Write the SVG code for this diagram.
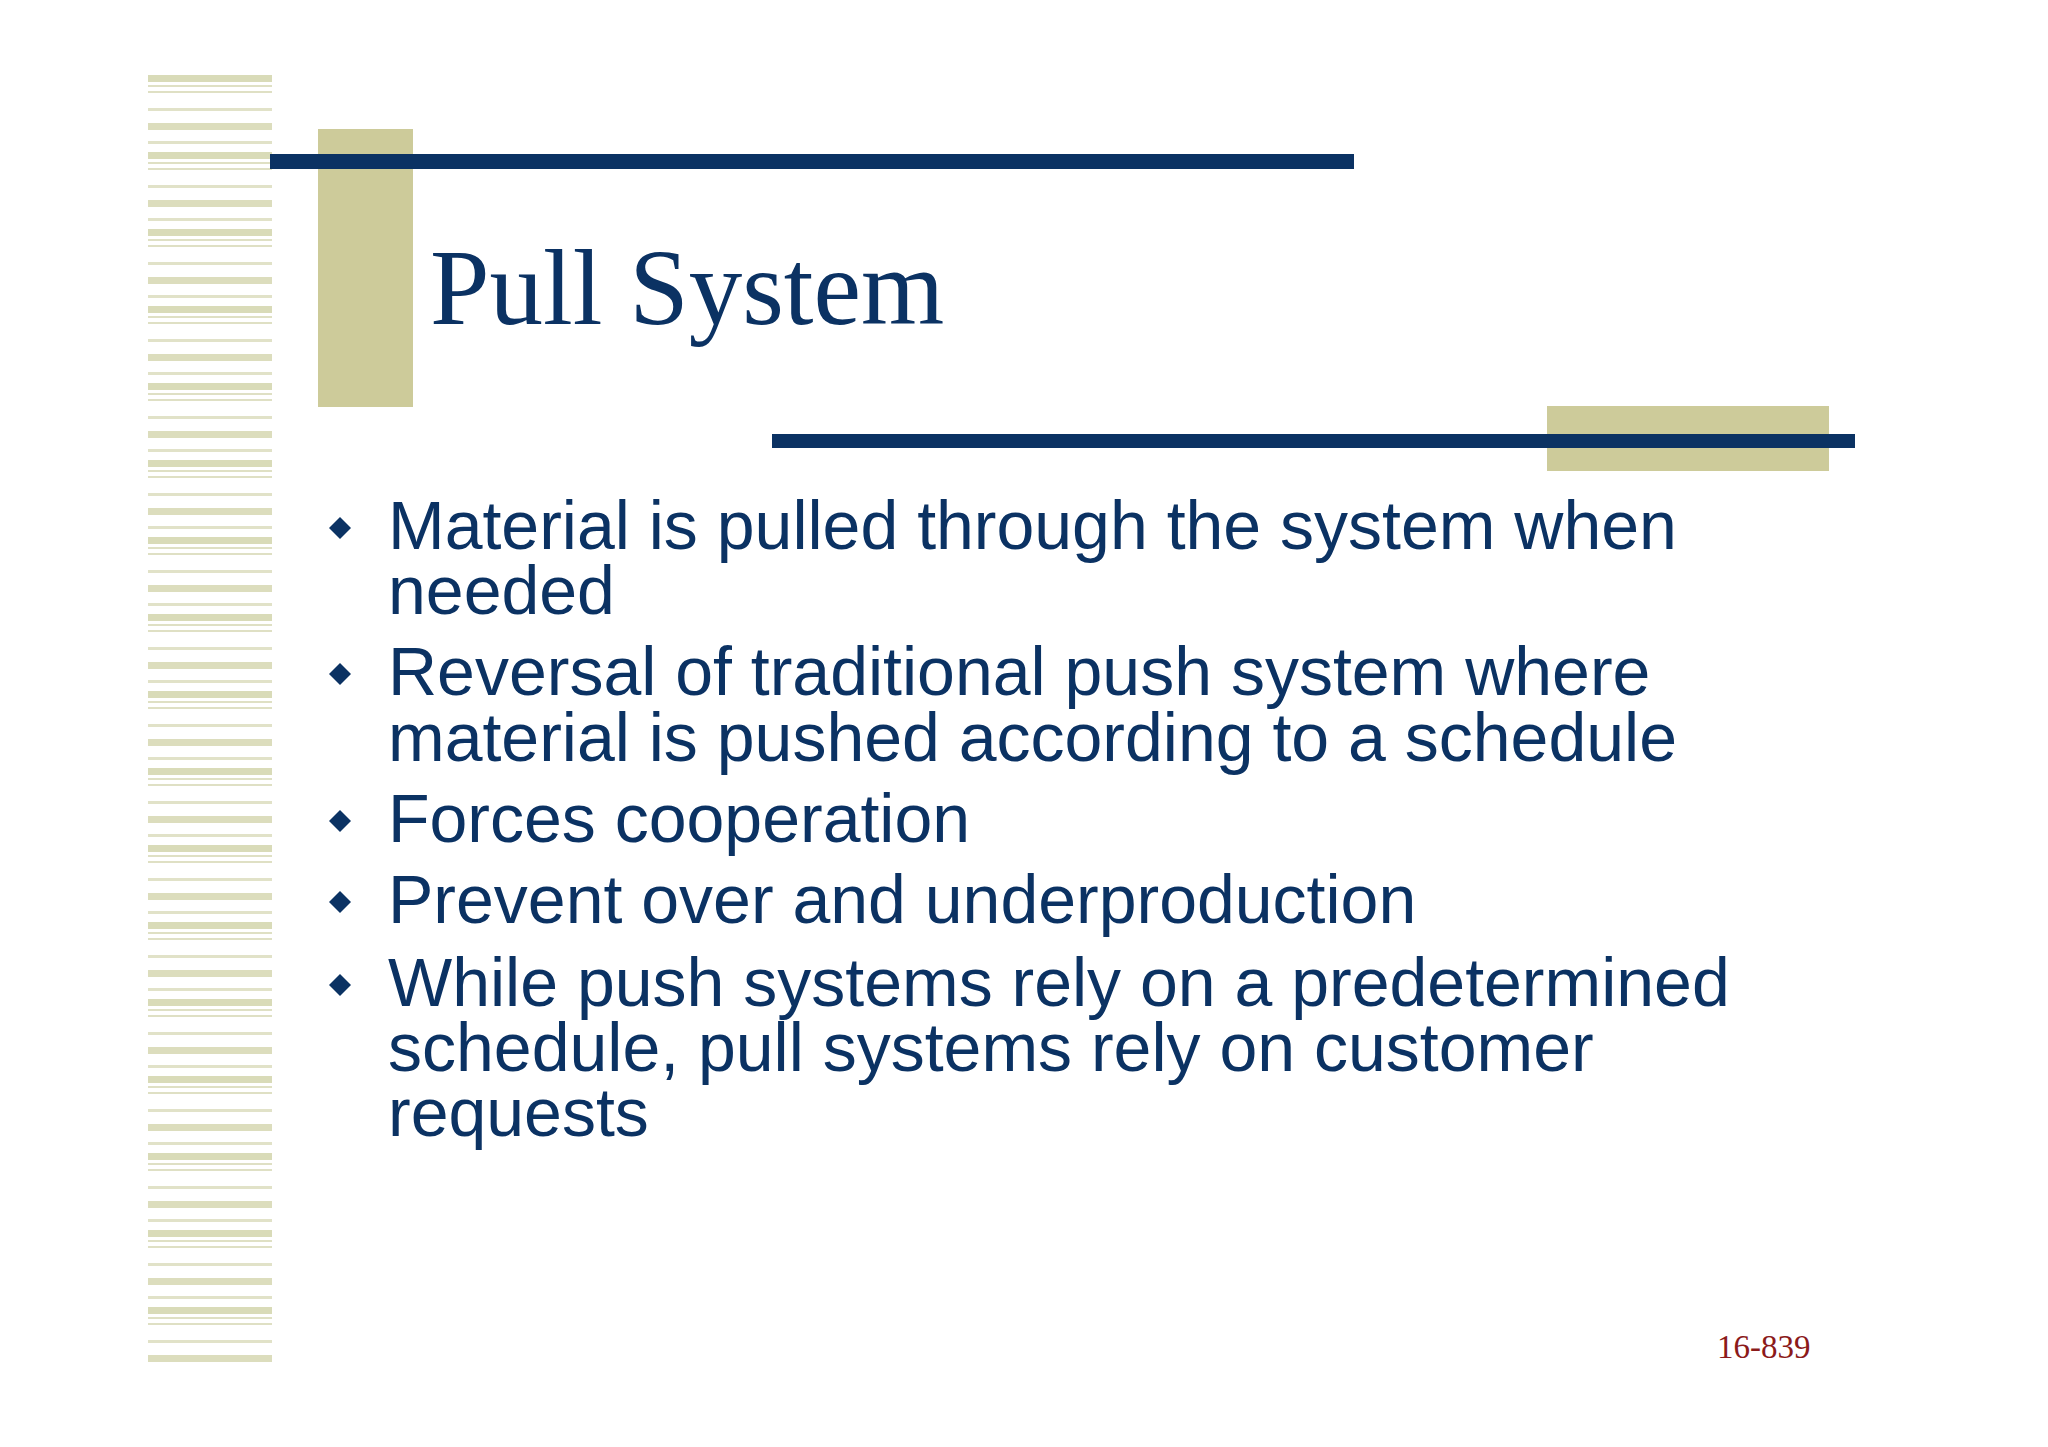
<svg xmlns="http://www.w3.org/2000/svg" width="2048" height="1447" viewBox="0 0 2048 1447">
<defs>
<pattern id="st" x="148" y="75" width="124" height="77" patternUnits="userSpaceOnUse">
<rect x="0" y="0" width="124" height="7" fill="#d9dbb8"/>
<rect x="0" y="10" width="124" height="2" fill="#dfe0c4"/>
<rect x="0" y="16" width="124" height="2" fill="#dfe0c4"/>
<rect x="0" y="33" width="124" height="3" fill="#e1e2c8"/>
<rect x="0" y="48" width="124" height="7" fill="#dcddbd"/>
<rect x="0" y="66" width="124" height="3" fill="#e1e2c8"/>
</pattern>
<style>
.b{font-family:"Liberation Sans",Arial,sans-serif;font-size:68px;fill:#0b3263}
.d{fill:#0b3263}
</style>
</defs>
<rect width="2048" height="1447" fill="#fff"/>
<rect x="148" y="75" width="124" height="1295" fill="url(#st)"/>
<rect x="318" y="129" width="95" height="278" fill="#cdcb9a"/>
<rect x="270" y="154" width="1084" height="15" fill="#0b3263"/>
<rect x="1547" y="406" width="282" height="65" fill="#cdcb9a"/>
<rect x="772" y="434" width="1083" height="14" fill="#0b3263"/>
<text x="430" y="324" font-family="Liberation Serif,serif" font-size="107" fill="#0b3263">Pull System</text>
<g id="bullets">
<path class="d" d="M340 517l11 11-11 11-11-11z"/>
<path class="d" d="M340 663l11 11-11 11-11-11z"/>
<path class="d" d="M340 810l11 11-11 11-11-11z"/>
<path class="d" d="M340 891l11 11-11 11-11-11z"/>
<path class="d" d="M340 974l11 11-11 11-11-11z"/>
<text class="b" x="388" y="549">Material is pulled through the system when</text>
<text class="b" x="388" y="614">needed</text>
<text class="b" x="388" y="695">Reversal of traditional push system where</text>
<text class="b" x="388" y="761">material is pushed according to a schedule</text>
<text class="b" x="388" y="842">Forces cooperation</text>
<text class="b" x="388" y="923">Prevent over and underproduction</text>
<text class="b" x="388" y="1006">While push systems rely on a predetermined</text>
<text class="b" x="388" y="1071">schedule, pull systems rely on customer</text>
<text class="b" x="388" y="1136">requests</text>
</g>
<text x="1717" y="1358" font-family="Liberation Serif,serif" font-size="33" fill="#8b1a1a">16-839</text>
</svg>
